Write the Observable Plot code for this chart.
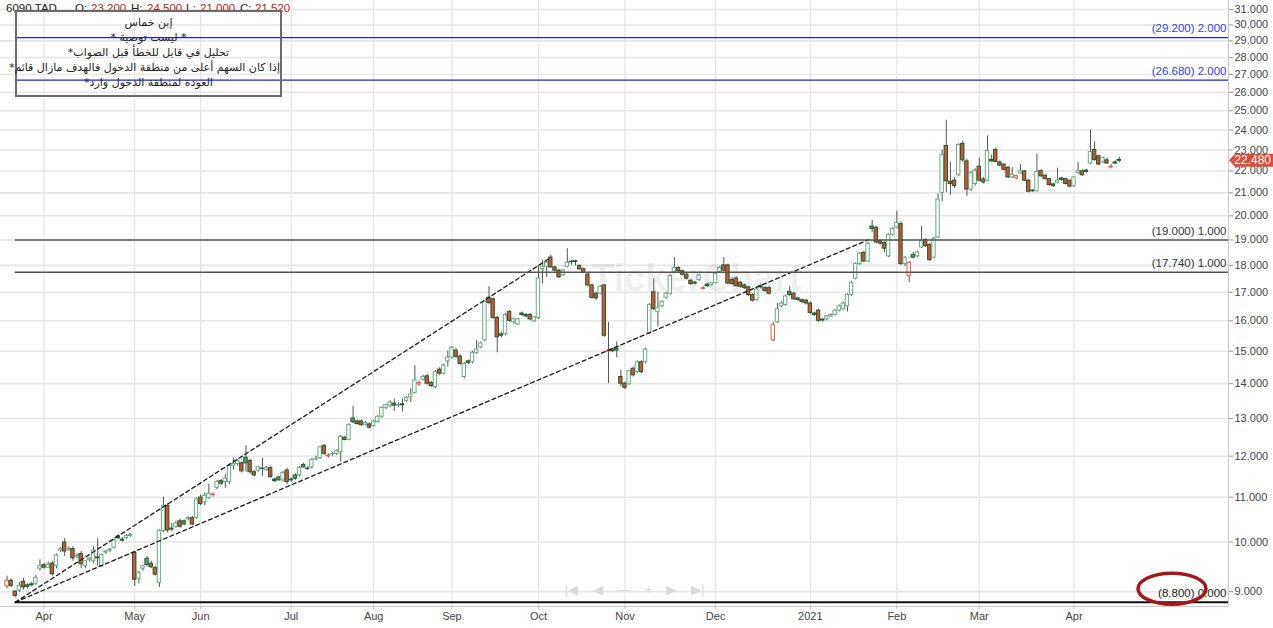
<!DOCTYPE html>
<html><head><meta charset="utf-8">
<script src="https://cdn.jsdelivr.net/npm/d3@7"></script>
<script src="https://cdn.jsdelivr.net/npm/@observablehq/plot@0.6"></script>
<style>
html,body{margin:0;padding:0;background:#fff;}
#wrap{position:relative;width:1273px;height:628px;overflow:hidden;font-family:"Liberation Sans",Arial,sans-serif;}
#hdr span{position:absolute;top:1px;font-size:11.5px;line-height:14px;white-space:nowrap;}
.lab{color:#222}.val{color:#b3261e}
#note{position:absolute;left:15px;top:10px;width:267px;height:87px;border:2px solid #6b6b6b;box-sizing:border-box;direction:rtl;text-align:center;font-family:"DejaVu Sans",sans-serif;font-size:11px;line-height:15px;padding-top:3px;color:#222;white-space:nowrap;}
</style></head>
<body><div id="wrap"></div>
<script>
// ---- data (daily candles, trading-day index) ----
const symbol = "6090.TAD";
const hover = {O: "23.200", H: "24.500", L: "21.000", C: "21.520"};
const prevClose0 = 9.30;
const open = [
9.10,9.21,9.00,9.02,9.19,9.12,9.14,9.15,9.45,9.52,
9.47,9.55,9.50,9.82,9.99,9.84,9.85,9.70,9.75,9.50,
9.63,9.60,9.68,9.50,9.78,9.82,9.88,10.12,10.05,10.08,
10.13,9.77,9.25,9.45,9.65,9.55,9.46,9.17,10.24,10.80,
10.29,10.32,10.45,10.45,10.50,10.52,10.52,10.99,10.88,10.98,
11.05,11.22,11.38,11.36,11.36,11.76,11.80,11.82,11.96,11.88,
11.60,11.64,11.69,11.65,11.70,11.42,11.47,11.40,11.64,11.42,
11.52,11.52,11.78,11.69,11.72,11.92,11.95,12.27,12.00,12.05,
12.06,12.10,12.48,12.42,13.00,12.92,12.92,12.83,12.84,12.80,
12.90,13.05,13.30,13.36,13.42,13.37,13.40,13.50,13.60,13.72,
13.98,14.12,14.22,14.02,13.90,14.42,14.30,14.68,14.80,15.02,
14.83,14.20,14.68,14.65,14.95,15.12,15.35,16.80,16.75,16.10,
15.55,15.55,16.30,15.95,15.88,16.25,16.20,16.20,15.98,16.10,
17.85,17.95,18.30,17.92,17.80,17.62,17.95,18.14,18.16,17.98,
17.85,17.65,17.25,16.95,16.95,17.25,14.98,15.05,15.08,14.20,
14.00,13.98,14.45,14.35,14.65,14.65,15.60,17.00,16.30,16.50,
16.80,16.95,17.75,17.90,17.78,17.65,17.42,17.35,17.45,17.12,
17.28,17.25,17.33,17.75,18.00,18.00,17.45,17.50,17.35,17.25,
17.18,16.90,16.72,17.22,17.15,17.15,15.35,15.95,16.50,16.55,
17.02,16.95,16.78,16.72,16.70,16.60,16.25,16.35,16.04,16.05,
16.15,16.20,16.35,16.40,16.50,16.90,17.50,18.05,18.48,18.15,
19.55,19.50,18.95,18.88,18.35,19.20,19.50,19.65,18.05,17.60,
18.40,18.35,18.70,19.00,18.80,18.30,19.10,21.00,23.20,21.50,
21.55,21.80,23.30,22.45,21.15,21.40,22.20,21.60,21.55,22.52,
23.00,22.40,22.30,22.15,21.70,21.66,21.88,21.98,21.55,21.10,
21.07,22.00,21.78,21.62,21.38,21.45,21.65,21.62,21.55,21.30,
21.90,21.98,22.02,22.35,23.00,22.70,22.40,22.50,22.16,22.40,
22.52];
const high = [
9.30,9.25,9.02,9.18,9.26,9.15,9.18,9.32,9.63,9.56,
9.58,9.60,9.75,9.88,10.07,9.90,9.90,9.75,9.80,9.62,
9.68,9.90,10.07,9.75,9.82,9.86,10.06,10.16,10.10,10.16,
10.18,9.80,9.40,9.52,9.70,9.60,9.50,10.26,11.00,10.85,
10.40,10.45,10.50,10.48,10.55,10.56,10.98,11.05,11.10,11.30,
11.10,11.40,11.42,11.55,11.78,11.95,11.92,11.86,12.27,11.92,
11.64,11.75,11.95,11.74,11.74,11.46,11.50,11.62,11.70,11.46,
11.56,11.74,11.82,11.74,11.94,12.00,12.26,12.30,12.06,12.10,
12.16,12.54,12.52,12.86,13.35,12.96,12.96,12.92,12.88,12.95,
13.08,13.33,13.40,13.50,13.55,13.45,13.55,13.62,13.85,14.55,
14.08,14.25,14.28,14.06,14.40,14.48,14.60,15.00,15.15,15.08,
14.88,14.65,14.72,15.00,15.35,15.30,16.70,17.20,16.80,16.15,
15.62,16.25,16.35,16.10,16.08,16.30,16.25,16.25,16.15,18.00,
18.20,18.15,18.40,17.98,17.85,17.85,18.65,18.20,18.20,18.02,
17.90,17.70,17.30,17.00,17.25,17.28,15.95,15.10,15.30,14.40,
14.05,14.40,14.50,14.70,14.70,15.10,16.60,17.50,17.00,16.70,
17.00,17.65,18.30,17.95,17.82,17.70,17.48,17.40,17.66,17.20,
17.32,17.36,17.72,17.95,18.30,18.05,17.55,17.58,17.40,17.30,
17.22,16.95,17.15,17.30,17.20,17.20,15.95,16.60,16.65,16.90,
17.20,17.00,16.82,16.76,16.74,16.65,16.30,16.40,16.08,16.18,
16.24,16.40,16.55,16.65,16.95,17.40,18.10,18.50,18.55,18.90,
19.80,19.55,19.00,18.92,19.25,19.50,20.20,19.75,18.35,18.15,
18.50,18.55,19.55,19.05,18.85,19.10,20.95,23.00,24.50,22.40,
21.70,23.30,23.45,22.55,21.98,22.10,22.60,21.70,23.70,22.75,
23.10,22.48,22.35,22.20,22.15,21.80,22.30,22.02,21.60,21.15,
22.80,22.05,21.82,21.66,21.42,22.13,21.70,21.66,21.58,21.75,
22.40,22.05,22.08,24.00,23.40,22.75,22.65,22.60,22.30,22.48,
22.65];
const low = [
9.05,9.08,8.88,8.98,9.03,9.05,9.10,9.12,9.40,9.44,
9.45,9.30,9.45,9.78,9.70,9.80,9.60,9.65,9.45,9.45,
9.58,9.55,9.50,9.48,9.74,9.78,9.85,10.05,10.00,10.05,
10.10,9.10,9.15,9.40,9.50,9.45,9.30,9.08,10.20,10.20,
10.22,10.30,10.30,10.35,10.46,10.35,10.50,10.80,10.80,10.95,
11.00,11.18,11.28,11.20,11.30,11.65,11.75,11.58,11.60,11.55,
11.48,11.60,11.50,11.62,11.45,11.35,11.38,11.36,11.30,11.36,
11.40,11.48,11.70,11.64,11.68,11.88,11.92,12.02,11.96,12.00,
12.02,11.85,12.40,12.40,12.86,12.82,12.78,12.80,12.72,12.76,
12.88,13.00,13.25,13.30,13.20,13.30,13.18,13.45,13.45,13.70,
13.92,14.08,13.96,13.88,13.86,14.25,14.26,14.50,14.75,14.78,
14.55,14.15,14.58,14.60,14.90,15.08,15.30,16.55,16.05,14.95,
15.42,15.50,15.95,15.90,15.84,16.15,16.10,16.00,15.95,16.05,
17.30,17.55,17.90,17.75,17.50,17.58,17.90,18.00,17.98,17.82,
17.68,17.20,16.75,16.70,16.90,15.45,14.00,14.95,14.80,13.90,
13.82,13.95,14.20,14.30,14.30,14.60,15.55,16.35,15.80,16.45,
16.75,16.90,17.70,17.72,17.60,17.45,17.25,17.26,17.40,17.08,
17.18,17.22,17.30,17.70,17.75,17.28,17.25,17.20,17.15,17.10,
16.85,16.65,16.68,17.12,17.00,16.90,15.30,15.90,16.45,16.50,
16.85,16.70,16.68,16.60,16.55,16.22,16.15,15.95,15.96,16.00,
16.12,16.16,16.30,16.36,16.30,16.85,17.45,18.00,18.10,18.10,
19.30,18.85,18.80,18.50,18.30,19.15,19.45,18.00,17.95,17.35,
18.25,18.30,18.65,18.70,18.15,18.25,19.05,20.60,21.00,20.90,
21.20,21.75,22.40,20.85,21.05,21.30,21.50,21.40,21.50,22.40,
22.40,22.20,22.00,21.65,21.65,21.60,21.85,21.50,21.00,21.02,
21.04,21.70,21.58,21.30,21.25,21.40,21.52,21.35,21.22,21.25,
21.85,21.75,21.90,22.30,22.45,22.25,22.35,22.30,22.10,22.30,
22.40];
const close = [
9.21,9.11,8.92,9.11,9.08,9.09,9.12,9.27,9.50,9.47,
9.53,9.34,9.72,9.85,9.80,9.86,9.66,9.72,9.54,9.60,
9.66,9.82,9.66,9.73,9.80,9.84,10.03,10.08,10.03,10.13,
10.15,9.23,9.36,9.50,9.52,9.48,9.33,10.24,10.80,10.25,
10.27,10.40,10.33,10.38,10.52,10.38,10.95,10.84,11.03,11.08,
11.06,11.36,11.32,11.44,11.75,11.80,11.88,11.62,11.82,11.60,
11.52,11.72,11.68,11.70,11.48,11.38,11.40,11.58,11.36,11.40,
11.44,11.70,11.72,11.68,11.90,11.93,12.23,12.06,12.02,12.06,
12.13,12.50,12.42,12.82,12.90,12.85,12.82,12.88,12.75,12.92,
13.05,13.30,13.38,13.45,13.36,13.38,13.37,13.58,13.68,14.10,
14.02,14.20,14.00,13.93,14.35,14.30,14.55,14.80,15.10,14.82,
14.60,14.60,14.63,14.95,15.05,15.25,16.65,16.62,16.10,15.45,
15.50,16.20,16.00,16.05,16.05,16.20,16.15,16.05,16.12,17.50,
17.95,18.10,17.92,17.80,17.55,17.80,18.10,18.12,18.13,17.85,
17.72,17.25,16.80,16.78,17.20,15.50,15.02,15.00,15.02,14.00,
13.88,14.38,14.25,14.65,14.35,15.05,16.55,16.40,16.45,16.65,
16.95,17.60,17.90,17.78,17.65,17.50,17.30,17.32,17.62,17.15,
17.22,17.33,17.68,17.90,17.80,17.32,17.30,17.22,17.20,17.15,
16.90,16.70,17.10,17.18,17.05,16.95,15.85,16.40,16.60,16.85,
16.90,16.75,16.72,16.65,16.60,16.27,16.20,16.00,16.01,16.15,
16.20,16.35,16.50,16.60,16.90,17.35,18.05,18.45,18.15,18.85,
19.45,18.90,18.85,18.65,19.20,19.45,19.70,18.05,18.28,18.10,
18.30,18.50,18.95,18.75,18.20,19.05,20.70,22.75,21.52,21.40,
21.30,23.25,22.50,21.15,21.90,22.00,21.55,21.47,22.95,22.45,
22.42,22.25,22.05,21.70,21.82,21.76,21.98,21.55,21.05,21.07,
21.95,21.75,21.62,21.35,21.30,21.55,21.58,21.40,21.28,21.70,
22.00,21.80,21.95,22.90,22.52,22.30,22.62,22.35,22.20,22.35,
22.48];

// x axis: index of first trading day of each month
const monthIdx = [9, 31, 47, 69, 89, 108, 129, 150, 172, 195, 216, 236, 259];
const monthNames = ["Apr","May","Jun","Jul","Aug","Sep","Oct","Nov","Dec","2021","Feb","Mar","Apr"];
const yTicks = [9,10,11,12,13,14,15,16,17,18,19,20,21,22,23,24,25,26,27,28,29,30,31];

// horizontal levels drawn on the chart
const levelValues = [29.2, 26.68, 19.0, 17.74, 8.8];
const levelTexts = ["(29.200) 2.000", "(26.680) 2.000", "(19.000) 1.000", "(17.740) 1.000", "(8.800) 0.000"];
const levelKinds = ["target", "target", "entry", "entry", "base"];
const levelStartIdx = 2;

// dashed trend lines (start index/price -> end index/price)
const trendNames = ["upper", "lower"];
const trendStartIdx = [2, 2];
const trendStartVal = [8.8, 8.8];
const trendEndIdx = [131.5, 209];
const trendEndVal = [18.25, 19.0];

const noteLines = [
  "إبن خماس",
  "* ليست توصية *",
  "تحليل في قابل للخطأ قبل الصواب*",
  "إذا كان السهم أعلى من منطقة الدخول فالهدف مازال قائم*",
  "العودة لمنطقة الدخول وارد*"
];

// ---- build ----
const N = close.length;
const rows = d3.range(N).map(i => {
  const o = open[i], c = close[i], pc = i ? close[i - 1] : prevClose0;
  return {i, o, h: high[i], l: low[i], c, hollow: c > o, up: c >= pc, lo: Math.min(o, c), hi: Math.max(o, c)};
});
const levels = levelValues.map((v, k) => ({v, text: levelTexts[k], kind: levelKinds[k]}));
const trends = trendNames.flatMap((n, k) => [
  {n, i: trendStartIdx[k], v: trendStartVal[k]},
  {n, i: trendEndIdx[k], v: trendEndVal[k]}
]);
const monthLabel = new Map(monthIdx.map((d, k) => [d, monthNames[k]]));
const xMin = -1.58, xMax = 296.5;
const lineColor = {target: "#2323e6", entry: "#555", base: "#111"};
const lineWidth = {target: 1.3, entry: 1.5, base: 2};
const textColor = {target: "#3b3bef", entry: "#333", base: "#222"};
const bodyFill = d => d.hollow ? "#fff" : (d.up ? "#5c9c70" : "#d9503a");
const bodyStroke = d => d.hollow ? (d.up ? "#6aaa80" : "#e0604c") : "#1f5a2e";
const half = 0.41;

const chart = Plot.plot({
  width: 1273, height: 628,
  marginLeft: 0, marginRight: 45, marginTop: 0, marginBottom: 22,
  style: {fontFamily: "Liberation Sans, Arial, sans-serif", fontSize: "11px", color: "#444", background: "transparent", overflow: "visible"},
  x: {type: "linear", domain: [xMin, xMax]},
  y: {type: "log", domain: [8.72, 31.6]},
  marks: [
    Plot.gridY(yTicks, {stroke: "#e6e6e6", strokeOpacity: 1, strokeWidth: 1.6}),
    Plot.gridX(monthIdx, {stroke: "#e6e6e6", strokeOpacity: 1, strokeWidth: 1.2}),
    Plot.text(["TickerChart"], {frameAnchor: "middle", dx: 82, dy: -25, fontSize: 38, fontWeight: "bold", fill: "#000", fillOpacity: 0.085}),
    Plot.text(["|◀    ◀    —    +    ▶    ▶|"], {frameAnchor: "bottom", dx: 20, dy: -13, fontSize: 13, fill: "#dadada"}),
    Plot.ruleX([xMax], {stroke: "#c8c8c8"}),
    Plot.ruleY([8.72], {stroke: "#c8c8c8"}),
    Plot.axisY(yTicks, {anchor: "right", tickFormat: d => d.toFixed(3), tickSize: 4, tickPadding: 2, stroke: "#999", fill: "#444", label: null}),
    Plot.axisX(monthIdx, {anchor: "bottom", tickFormat: d => monthLabel.get(d), tickSize: 3, tickPadding: 3, stroke: "#bbb", fill: "#444", label: null}),
    Plot.ruleX(rows, {x: "i", y1: "l", y2: "h", stroke: "#555", strokeWidth: 1}),
    Plot.rect(rows, {x1: d => d.i - half, x2: d => d.i + half, y1: "lo", y2: "hi", fill: bodyFill, stroke: bodyStroke, strokeWidth: 1}),
    Plot.line(trends, {x: "i", y: "v", z: "n", stroke: "#1a1a1a", strokeWidth: 1.3, strokeDasharray: "4,3"}),
    Plot.ruleY(levels, {y: "v", x1: levelStartIdx, x2: xMax, stroke: d => lineColor[d.kind], strokeWidth: d => lineWidth[d.kind]}),
    Plot.text(levels, {y: "v", text: "text", frameAnchor: "right", textAnchor: "end", dx: -2, dy: -9, fontSize: 11.5, fill: d => textColor[d.kind]})
  ]
});

const wrap = document.getElementById("wrap");
wrap.appendChild(chart);

// price tag for the last close and annotation ellipse around the base label
const svg = d3.select(chart);
const ys = chart.scale("y"), xs = chart.scale("x");
const xr = xs.apply(xMax);
const yc = ys.apply(close[N - 1]);
svg.append("path")
  .attr("d", `M${xr + 1},${yc} L${xr + 7},${yc - 6.5} L1273,${yc - 6.5} L1273,${yc + 6.5} L${xr + 7},${yc + 6.5} Z`)
  .attr("fill", "#d9503a");
svg.append("text").attr("x", 1271).attr("y", yc + 4.2).attr("text-anchor", "end")
  .attr("fill", "#fff").attr("font-size", 12).text(close[N - 1].toFixed(3));
const yb = ys.apply(levelValues[4]);
svg.append("ellipse").attr("cx", xr - 56).attr("cy", yb - 13).attr("rx", 34).attr("ry", 15.5)
  .attr("fill", "none").attr("stroke", "#a3161a").attr("stroke-width", 3.5);

// header line
const hdr = document.createElement("div");
hdr.id = "hdr";
const parts = [[6, symbol, "lab"], [75, "O:", "lab"], [91, hover.O, "val"], [131, "H:", "lab"], [147, hover.H, "val"],
  [186, "L:", "lab"], [200, hover.L, "val"], [240, "C:", "lab"], [255, hover.C, "val"]];
parts.forEach(([x, t, c]) => {
  const s = document.createElement("span");
  s.className = c; s.style.left = x + "px"; s.textContent = t; hdr.appendChild(s);
});
wrap.appendChild(hdr);

// note box
const note = document.createElement("div");
note.id = "note";
noteLines.forEach(t => { const d = document.createElement("div"); d.textContent = t; note.appendChild(d); });
wrap.appendChild(note);
</script></body></html>
